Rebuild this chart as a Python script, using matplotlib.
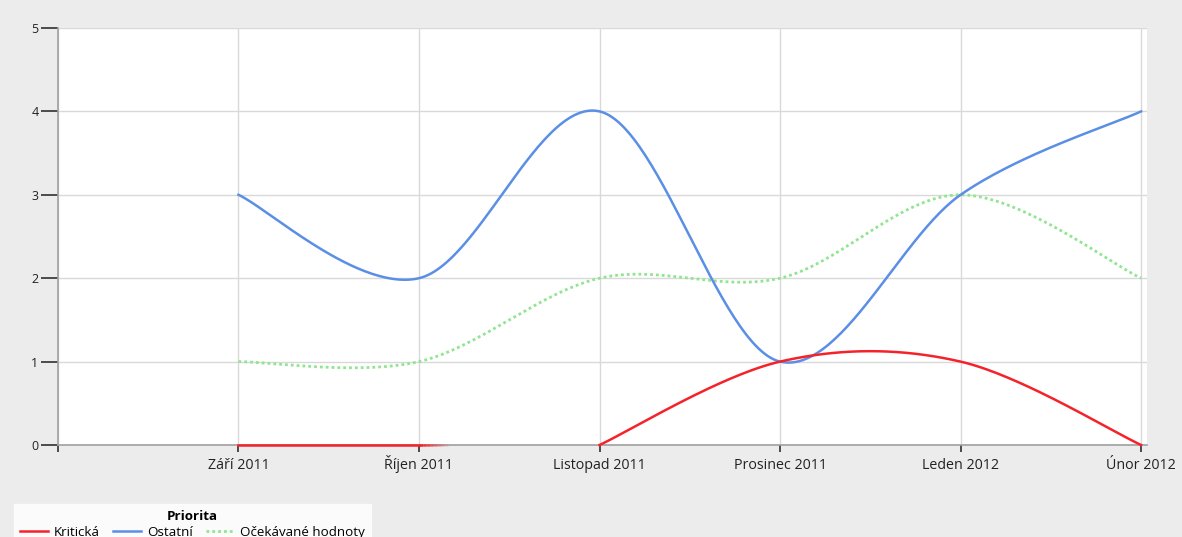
import numpy as np
import matplotlib.pyplot as plt
from matplotlib.lines import Line2D

months = ['Září 2011', 'Říjen 2011', 'Listopad 2011', 'Prosinec 2011', 'Leden 2012', 'Únor 2012']
kriticka_a = [0, 0]              # Září - Říjen
kriticka_b = [0, 1, 1, 0]        # Listopad - Únor
ostatni = [3, 2, 4, 1, 3, 4]
ocekavane = [1, 1, 2, 2, 3, 2]


def cardinal(xs, ys, tension=0.5, n=60):
    # cardinal spline through the points, drawn as cubic bezier pieces
    p = np.column_stack([xs, ys]).astype(float)
    out = [p[:1]]
    for i in range(len(p) - 1):
        prev = p[i - 1] if i > 0 else p[i]
        nxt = p[i + 2] if i + 2 < len(p) else p[i + 1]
        c1 = p[i] + tension * (p[i + 1] - prev) / 3
        c2 = p[i + 1] - tension * (nxt - p[i]) / 3
        t = np.linspace(0, 1, n)[1:, None]
        seg = ((1 - t) ** 3 * p[i] + 3 * (1 - t) ** 2 * t * c1
               + 3 * (1 - t) * t ** 2 * c2 + t ** 3 * p[i + 1])
        out.append(seg)
    pts = np.vstack(out)
    return pts[:, 0], pts[:, 1]


fig = plt.figure(figsize=(11.82, 5.37), dpi=100)
fig.patch.set_facecolor('#ececec')
ax = fig.add_axes([0.049, 0.1713, 0.921, 0.7766])
ax.set_facecolor('white')

pos = np.arange(1, len(months) + 1)
red = '#f5222a'
blue = '#5b8fe6'
green = '#8fe68f'

x, y = cardinal(pos, ocekavane)
ax.plot(x, y, color=green, lw=2.0, ls=(0, (1, 1.1)), zorder=3)
x, y = cardinal(pos, ostatni)
ax.plot(x, y, color=blue, lw=1.8, zorder=4)
x, y = cardinal(pos[:2], kriticka_a)
ax.plot(x, y, color=red, lw=1.8, zorder=5, clip_on=False)
# short fade after the last October point
for k in range(8):
    ax.plot([pos[1] + k * 0.02, pos[1] + (k + 1) * 0.02], [0, 0], color=red,
            lw=1.8, alpha=1 - k / 8, zorder=5, clip_on=False, solid_capstyle='butt')
x, y = cardinal(pos[2:], kriticka_b)
ax.plot(x, y, color=red, lw=1.8, zorder=5, clip_on=False)

ax.set_xlim(0, 6.03)
ax.set_ylim(0, 5)
ax.set_yticks(range(6))
ax.set_xticks(np.concatenate([[0], pos]))
ax.set_xticklabels([''] + months)
ax.grid(True, color='#d9d9d9', lw=1)
ax.set_axisbelow(True)

for s in ['top', 'right']:
    ax.spines[s].set_visible(False)
for s in ['left', 'bottom']:
    ax.spines[s].set_color('#a0a0a0')
    ax.spines[s].set_linewidth(1.2)

ax.tick_params(axis='y', length=12, width=1.2, color='#303030', pad=2,
               labelsize=9, labelcolor='#222222')
ax.tick_params(axis='x', length=5, width=1.2, color='#303030', pad=12.5,
               labelsize=10.3, labelcolor='#222222')
for lab in ax.get_xticklabels():
    lab.set_family('Open Sans')
    lab.set_verticalalignment('baseline')
for lab in ax.get_yticklabels():
    lab.set_family('Open Sans')

handles = [
    Line2D([], [], color=red, lw=1.8),
    Line2D([], [], color=blue, lw=1.8),
    Line2D([], [], color=green, lw=2.0, ls=(0, (1, 1.1))),
]
leg = fig.legend(handles, ['Kritická', 'Ostatní', 'Očekávané hodnoty'],
                 title='Priorita', ncol=3, loc='upper left',
                 bbox_to_anchor=(0.006, 0.074), frameon=True, fancybox=False,
                 prop={'family': 'Open Sans', 'size': 9.6},
                 title_fontproperties={'family': 'Open Sans', 'weight': 'bold', 'size': 9.6},
                 handlelength=2.1, columnspacing=1.0, handletextpad=0.45,
                 borderpad=0.45, labelspacing=0.2)
leg.get_frame().set_facecolor('white')
leg.get_frame().set_edgecolor('white')

fig.savefig('out.png', dpi=100, facecolor=fig.get_facecolor())
